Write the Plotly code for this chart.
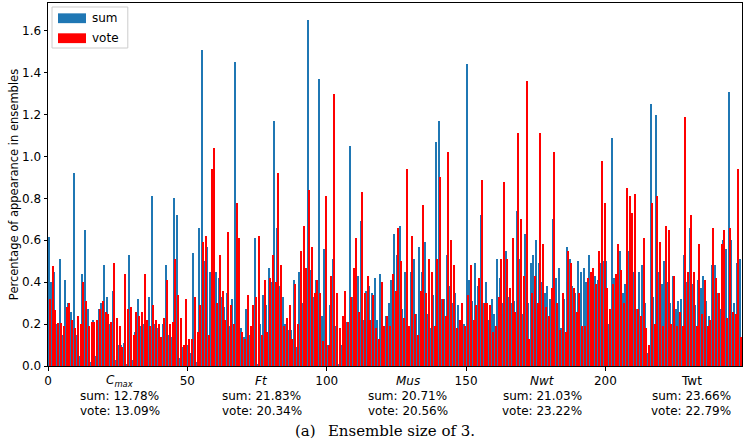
import plotly.graph_objects as go

# Share of each configuration among selected ensembles, per aggregation rule
sum_share = [
    0.615, 0.40, 0.45, 0.20, 0.513, 0.15, 0.41, 0.30, 0.26, 0.92, 0.15, 0.05, 0.44, 0.65, 0.27, 0.02, 0.22, 0.05, 0.27, 0.30, 0.48,
    0.33, 0.20, 0.36, 0.03, 0.10, 0.10, 0.11, 0.01, 0.53, 0.03, 0.16, 0.32, 0.19, 0.20, 0.02, 0.33, 0.81, 0.20, 0.18, 0.10,
    0.20, 0.48, 0.15, 0.14, 0.80, 0.72, 0.04, 0.09, 0.09, 0.10, 0.06, 0.54, 0.02, 0.66, 1.51, 0.50, 0.57, 0.45, 0.44, 0.45,
    0.42, 0.33, 0.28, 0.35, 0.19, 0.32, 1.45, 0.30, 0.18, 0.14, 0.27, 0.15, 0.09, 0.61, 0.01, 0.20, 0.34, 0.29, 0.47, 0.40, 1.17, 0.66,
    0.38, 0.33, 0.20, 0.17, 0.17, 0.41, 0.09, 0.45, 0.30, 0.25, 1.65, 0.46, 0.33, 0.41, 1.37, 0.24, 0.56, 0.10, 0.29, 0.51, 0.19,
    0.01, 0.10, 0.14, 0.21, 1.05, 0.33, 0.21, 0.43, 0.69, 0.22, 0.36, 0.38, 0.35, 0.42, 0.22, 0.44, 0.18, 0.24, 0.30, 0.41, 0.63,
    0.53, 0.67, 0.27, 0.45, 0.15, 0.45, 0.51, 0.25, 0.57, 0.45, 0.59, 0.25, 0.18, 0.34, 1.07, 1.17, 0.32, 0.32, 0.53, 0.38,
    0.30, 0.35, 0.29, 0.20, 0.20, 1.44, 0.41, 0.31, 0.49, 0.38, 0.72, 0.30, 0.40, 0.22, 0.32, 0.25, 0.51, 0.42, 0.30, 0.55, 0.33,
    0.30, 0.31, 0.74, 0.51, 0.25, 0.63, 0.30, 0.49, 0.53, 0.60, 0.49, 0.40, 0.35, 0.38, 0.32, 0.70, 0.42, 0.47, 0.18, 0.32, 0.57, 0.51,
    0.38, 0.35, 0.50, 0.45, 0.47, 0.40, 0.53, 0.20, 0.43, 0.41, 0.49, 0.50, 0.50, 0.20, 1.09, 0.42, 0.20, 0.55, 0.35, 0.39,
    0.55, 0.51, 0.45, 0.27, 0.45, 0.48, 0.30, 0.06, 1.25, 0.33, 1.20, 0.45, 0.39, 0.50, 0.40, 0.30, 0.43, 0.27, 0.31, 0.32, 0.53,
    0.40, 0.66, 0.39, 0.29, 0.41, 0.37, 0.43, 0.31, 0.24, 0.48, 0.48, 0.35, 0.27, 0.60, 0.56, 1.31, 0.60, 0.30, 0.49, 0.51,
]
vote_share = [
    0.32, 0.477, 0.267, 0.207, 0.207, 0.19, 0.28, 0.30, 0.22, 0.18, 0.24, 0.20, 0.40, 0.31, 0.19, 0.21, 0.21, 0.22, 0.27, 0.31, 0.26,
    0.25, 0.21, 0.49, 0.23, 0.19, 0.09, 0.44, 0.27, 0.28, 0.15, 0.26, 0.24, 0.26, 0.44, 0.22, 0.19, 0.29, 0.22, 0.20, 0.14,
    0.23, 0.41, 0.20, 0.21, 0.51, 0.34, 0.23, 0.10, 0.32, 0.13, 0.13, 0.33, 0.16, 0.29, 0.59, 0.62, 0.15, 0.94, 1.04, 0.30,
    0.53, 0.36, 0.22, 0.64, 0.29, 0.20, 0.78, 0.61, 0.16, 0.13, 0.34, 0.19, 0.29, 0.33, 0.62, 0.15, 0.41, 0.16, 0.42, 0.53, 0.40, 0.92,
    0.48, 0.19, 0.23, 0.29, 0.13, 0.39, 0.20, 0.55, 0.67, 0.47, 0.84, 0.57, 0.35, 0.41, 0.35, 0.12, 0.81, 0.10, 0.43, 1.30, 0.35,
    0.18, 0.24, 0.36, 0.21, 0.33, 0.47, 0.61, 0.26, 0.83, 0.35, 0.43, 0.22, 0.34, 0.18, 0.13, 0.40, 0.19, 0.24, 0.19, 0.44, 0.36,
    0.66, 0.50, 0.23, 0.94, 0.19, 0.62, 0.25, 0.15, 0.36, 0.77, 0.35, 0.51, 0.45, 0.19, 0.51, 0.90, 0.32, 0.24, 1.02, 0.60,
    0.48, 0.18, 0.22, 0.30, 0.19, 0.34, 0.48, 0.22, 0.29, 0.42, 0.89, 0.30, 0.30, 0.29, 0.16, 0.19, 0.33, 0.51, 0.88, 0.51, 0.37,
    0.61, 0.26, 1.11, 0.70, 0.43, 1.36, 0.13, 0.35, 0.43, 0.30, 1.11, 0.58, 0.28, 0.24, 0.37, 1.02, 0.30, 0.17, 0.35, 0.16, 0.55, 0.49,
    0.37, 0.26, 0.35, 0.19, 0.19, 0.42, 0.45, 0.47, 0.39, 0.55, 0.98, 0.78, 0.37, 0.27, 0.39, 0.44, 0.58, 0.46, 0.30, 0.85,
    0.81, 0.73, 0.82, 0.27, 0.24, 0.61, 0.18, 0.10, 0.78, 0.20, 0.81, 0.59, 0.19, 0.67, 0.65, 0.20, 0.43, 0.19, 0.26, 0.19, 1.19,
    0.45, 0.72, 0.45, 0.19, 0.58, 0.25, 0.41, 0.19, 0.22, 0.66, 0.42, 0.35, 0.58, 0.65, 0.23, 0.66, 0.26, 0.25, 0.94, 0.14,
]
positions = [i + 0.5 for i in range(len(sum_share))]

# Objective groups along the x axis and their aggregated shares (%)
group_names = ["<i>C</i><sub><i>max</i></sub>", "<i>Ft</i>", "<i>Mus</i>", "<i>Nwt</i>", "Twt"]
group_centers = [25.8, 76.7, 129.0, 177.4, 230.8]
group_sum_pct = [12.78, 21.83, 20.71, 21.03, 23.66]
group_vote_pct = [13.09, 20.34, 20.56, 23.22, 22.79]

y_ticks = [0.0, 0.2, 0.4, 0.6, 0.8, 1.0, 1.2, 1.4, 1.6]
x_ticks = [0, 50, 100, 150, 200]

series_names = ["sum", "vote"]
series_colors = ["#1f77b4", "#ff0000"]
y_title = "Percentage of appearance in ensembles"
caption = "(a)\u2002 Ensemble size of 3."

FONT = "DejaVu Sans"

fig = go.Figure()
fig.add_trace(go.Bar(x=positions, y=sum_share, name=series_names[0],
                     marker=dict(color=series_colors[0], line=dict(width=0))))
fig.add_trace(go.Bar(x=positions, y=vote_share, name=series_names[1],
                     marker=dict(color=series_colors[1], line=dict(width=0))))

fig.update_layout(
    width=743, height=442,
    margin=dict(l=48, r=1, t=3, b=76),
    barmode="group", bargap=0, bargroupgap=0,
    plot_bgcolor="white", paper_bgcolor="white",
    showlegend=False,
    font=dict(family=FONT, size=12, color="black"),
)
fig.update_xaxes(
    range=[0, len(sum_share)], tickvals=x_ticks, ticks="outside", ticklen=3.5,
    tickcolor="black", showline=True, linecolor="black", linewidth=1, mirror=True,
    showgrid=False, zeroline=False, tickfont=dict(size=12),
)
fig.update_yaxes(
    range=[0, 1.65 * 1.05], tickvals=y_ticks, tickformat=".1f", ticks="outside", ticklen=3.5,
    tickcolor="black", showline=True, linecolor="black", linewidth=1, mirror=True,
    showgrid=False, zeroline=False, tickfont=dict(size=12),
)

# Rotated y-axis title placed next to the tick labels
fig.add_annotation(xref="paper", yref="paper", x=-0.0495, y=0.5, text=y_title, textangle=-90,
                   showarrow=False, xanchor="center", yanchor="middle", font=dict(size=11.5))

# Legend box with wide patches
fig.add_shape(type="rect", xref="paper", yref="paper", x0=0.0058, x1=0.115, y0=0.876, y1=0.989,
              line=dict(color="#cccccc", width=1), fillcolor="rgba(255,255,255,0.8)", layer="above")
legend_rows = [0.958, 0.903]
for name, color, yc in zip(series_names, series_colors, legend_rows):
    fig.add_shape(type="rect", xref="paper", yref="paper", x0=0.0144, x1=0.0548,
                  y0=yc - 0.0135, y1=yc + 0.0135, line=dict(width=0), fillcolor=color, layer="above")
    fig.add_annotation(xref="paper", yref="paper", x=0.061, y=yc, text=name, showarrow=False,
                       xanchor="left", yanchor="middle", font=dict(size=12))

# Group labels and aggregated shares below the axis
for name, xc, s, v in zip(group_names, group_centers, group_sum_pct, group_vote_pct):
    fig.add_annotation(x=xc, xref="x", y=-0.041, yref="paper", text=name, showarrow=False,
                       yanchor="middle", font=dict(size=12))
    fig.add_annotation(x=xc, xref="x", y=-0.083, yref="paper", text=f"sum: {s:.2f}%", showarrow=False,
                       yanchor="middle", font=dict(size=12))
    fig.add_annotation(x=xc, xref="x", y=-0.124, yref="paper", text=f"vote: {v:.2f}%", showarrow=False,
                       yanchor="middle", font=dict(size=12))

fig.add_annotation(x=0.485, xref="paper", y=-0.179, yref="paper",
                   text=caption, showarrow=False, yanchor="middle",
                   font=dict(family="DejaVu Serif", size=15))

fig.write_html("out.html")
